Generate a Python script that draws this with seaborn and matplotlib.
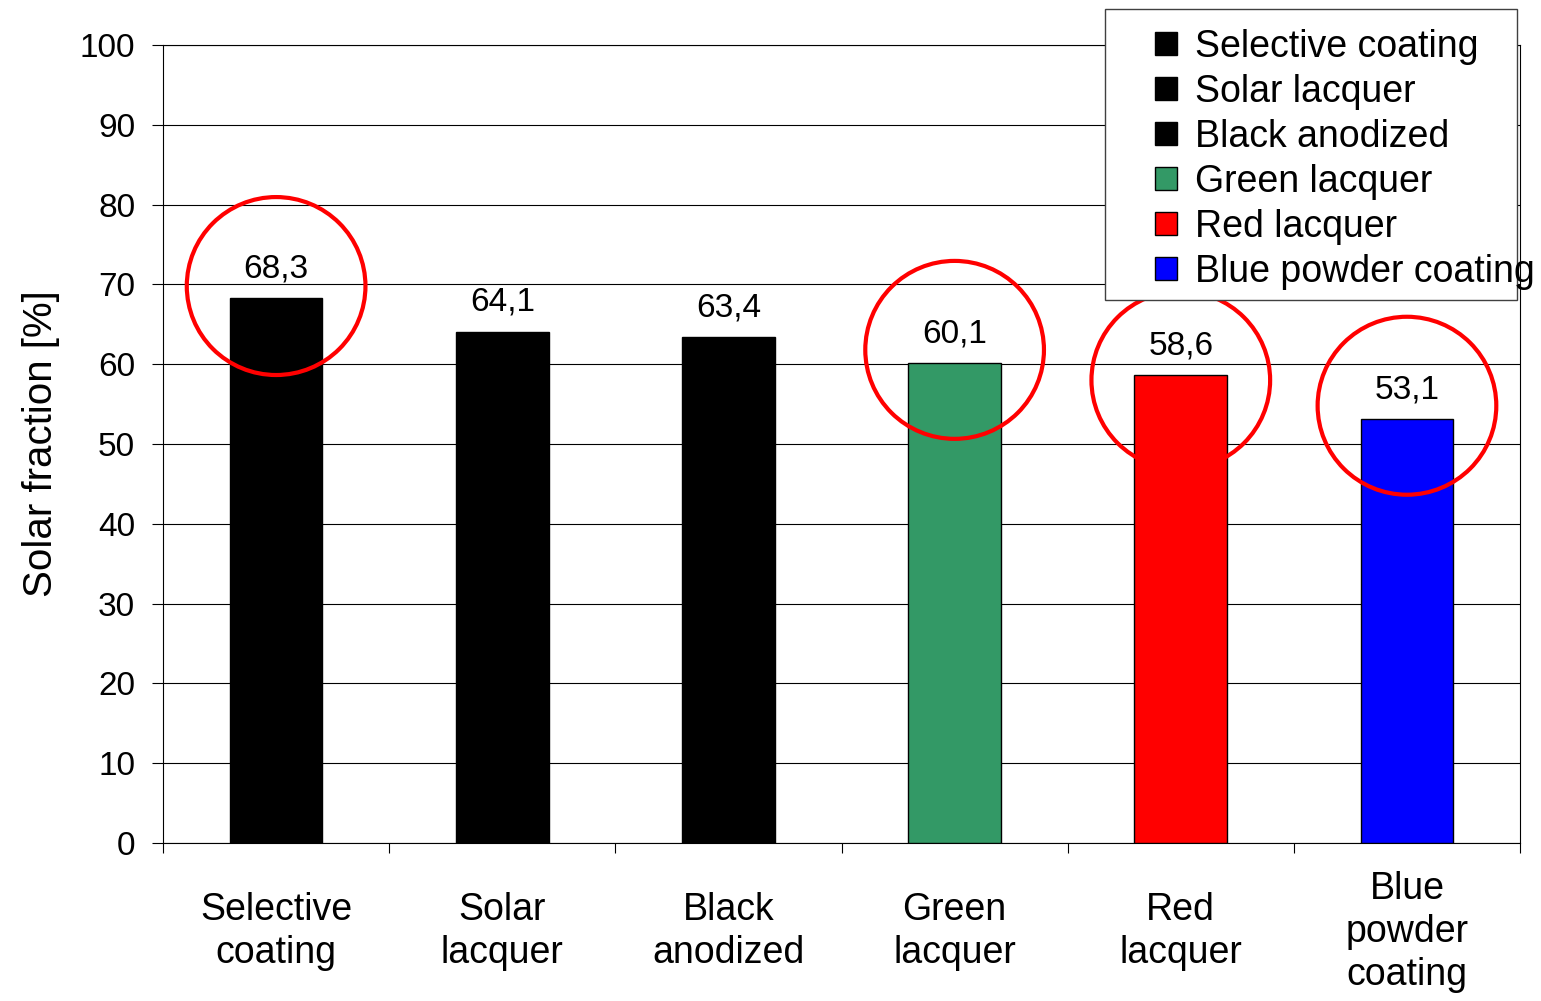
import matplotlib
matplotlib.use('Agg')
import matplotlib.pyplot as plt
from matplotlib.patches import Ellipse, Patch, Rectangle
from matplotlib.ticker import FixedLocator
import seaborn as sns

# data
coatings = ['Selective coating', 'Solar lacquer', 'Black anodized',
            'Green lacquer', 'Red lacquer', 'Blue powder coating']
tick_labels = ['Selective\ncoating', 'Solar\nlacquer', 'Black\nanodized',
               'Green\nlacquer', 'Red\nlacquer', 'Blue\npowder\ncoating']
solar_fraction = [68.3, 64.1, 63.4, 60.1, 58.6, 53.1]
bar_colors = ['#000000', '#000000', '#000000', '#339966', '#FF0000', '#0000FF']

# hand drawn red rings: which bar, and the height of the ring centre
ring_bars = [0, 3, 4, 5]
ring_centres = [69.8, 61.8, 58.0, 54.8]

sns.set_style('white')
plt.rcParams['font.family'] = ['Liberation Sans', 'DejaVu Sans']
plt.rcParams.update({'text.color': 'black', 'axes.labelcolor': 'black',
                     'xtick.color': 'black', 'ytick.color': 'black'})

fig = plt.figure(figsize=(15.41, 10.01), dpi=100)
ax = fig.add_axes([0.1058, 0.1578, 0.8806, 0.7972])

sns.barplot(x=coatings, y=solar_fraction, hue=coatings, palette=bar_colors,
            width=0.41, saturation=1, edgecolor='black', linewidth=1.0,
            legend=False, ax=ax, zorder=3)

# value labels with decimal comma
for container in ax.containers:
    labels = [f'{v:.1f}'.replace('.', ',') for v in container.datavalues]
    ax.bar_label(container, labels=labels, padding=10, fontsize=24, zorder=4)

ax.set_xlim(-0.5, len(coatings) - 0.5)
ax.set_ylim(0, 100)
ax.set_yticks(range(0, 101, 10))
ax.tick_params(axis='y', direction='out', length=8, width=0.8, pad=12,
               labelsize=24, left=True)
ax.yaxis.grid(True, color='black', linewidth=0.8)
ax.set_axisbelow(True)

# category labels in the middle, tick marks between categories
ax.set_xticks(range(len(coatings)))
ax.set_xticklabels(tick_labels, fontsize=27, linespacing=1.25)
ax.tick_params(axis='x', which='major', length=0, pad=64)
for lbl in ax.get_xticklabels():
    lbl.set_verticalalignment('center')
ax.xaxis.set_minor_locator(FixedLocator([i - 0.5 for i in range(len(coatings) + 1)]))
ax.tick_params(axis='x', which='minor', direction='out', length=7, width=0.8,
               bottom=True)
ax.set_xlabel('')
ax.set_ylabel('Solar fraction [%]', fontsize=29, labelpad=14)

for side in ['left', 'bottom', 'right', 'top']:
    ax.spines[side].set_visible(True)
    ax.spines[side].set_color('black')
    ax.spines[side].set_linewidth(0.8)

for idx, yc in zip(ring_bars, ring_centres):
    ax.add_patch(Ellipse((idx, yc), width=0.79, height=22.3, fill=False,
                         edgecolor='#FF0000', linewidth=3, zorder=6))

# legend box in Excel style, drawn over the plot area
fig.add_artist(Rectangle((0.7171, 0.7003), 0.2674, 0.2907,
                         transform=fig.transFigure, facecolor='white',
                         edgecolor='#404040', linewidth=1.0, zorder=2))
handles = [Patch(facecolor=c, edgecolor='black', linewidth=1.0) for c in bar_colors]
fig.legend(handles, coatings, loc='upper left', bbox_to_anchor=(0.7495, 0.971),
           bbox_transform=fig.transFigure, frameon=False, fontsize=27,
           borderpad=0, borderaxespad=0, handlelength=0.58, handleheight=0.58,
           handletextpad=0.5, labelspacing=0.24)

fig.savefig('out.png', dpi=100)
